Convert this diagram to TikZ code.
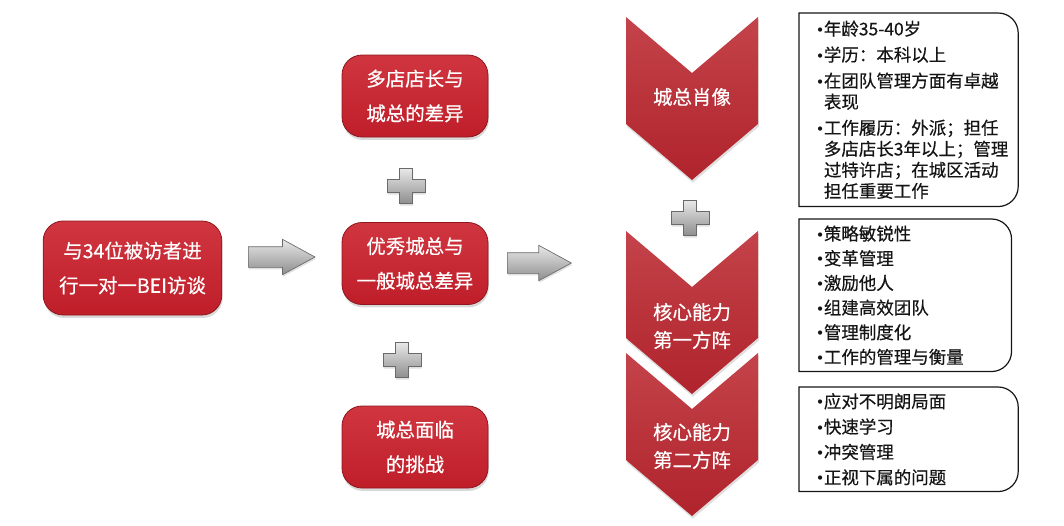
\documentclass[tikz,border=0pt]{standalone}
\usepackage{fontspec}
\setmainfont{Noto Sans CJK SC}[FakeBold=0.45]
\newfontfamily\symfont{DejaVu Sans}
\usetikzlibrary{arrows.meta,positioning,calc,shapes.arrows,shadows}
\definecolor{Brick}{HTML}{BF1E29}
\definecolor{BrickHi}{HTML}{D03640}
\definecolor{BrickDk}{HTML}{8E161E}
\definecolor{Wine}{HTML}{B0232C}
\definecolor{WineHi}{HTML}{C4434A}
\definecolor{Steel}{HTML}{8E8E8E}
\definecolor{SteelHi}{HTML}{E8E8E8}
\definecolor{SteelDk}{HTML}{6A6A6A}
\definecolor{Ink}{HTML}{151515}
\newcommand\bul{\makebox[6pt][l]{\symfont\fontsize{11}{11}\selectfont •}}
\newcommand\nob{\hspace*{6pt}}
\tikzset{
  redbox/.style={rounded corners=15pt,draw=BrickDk,line width=.6pt,top color=BrickHi,bottom color=Brick,text=white,align=center,inner sep=0pt,font=\fontsize{14.6}{26}\selectfont,drop shadow={opacity=.3,shadow xshift=.6pt,shadow yshift=-2.2pt}},
  chevfill/.style={top color=WineHi,bottom color=Wine,draw=none,drop shadow={opacity=.25,shadow xshift=.6pt,shadow yshift=-2pt}},
  chevtext/.style={text=white,align=center,inner sep=0pt,font=\fontsize{14.6}{21}\selectfont},
  blockarrow/.style={single arrow,draw=SteelDk,line width=.5pt,top color=SteelHi,bottom color=Steel,minimum height=50pt,minimum width=26pt,single arrow head extend=5.5pt,single arrow tip angle=57,inner xsep=0pt,inner ysep=7.5pt,anchor=tail,drop shadow={opacity=.25,shadow xshift=.5pt,shadow yshift=-1.5pt}},
  infobox/.style={align=left,inner xsep=12.5pt,inner ysep=0pt,text=Ink,font=\fontsize{13.1}{15.8}\selectfont},
  frame/.style={draw=Ink,line width=.9pt},
  addsign/.pic={
    \path[draw=SteelDk,line width=.5pt,top color=SteelHi,bottom color=Steel,drop shadow={opacity=.25,shadow xshift=.5pt,shadow yshift=-1.5pt}]
      (-6.5,-17.5) -- (6.5,-17.5) -- (6.5,-6.5) -- (19,-6.5) -- (19,6.5) -- (6.5,6.5) -- (6.5,17.5)
      -- (-6.5,17.5) -- (-6.5,6.5) -- (-19,6.5) -- (-19,-6.5) -- (-6.5,-6.5) -- cycle;
  }
}
\begin{document}
\begin{tikzpicture}[x=.75pt,y=-.75pt]
  \useasboundingbox (0,0) rectangle (1064,525);

  \node[redbox,minimum width=134pt,minimum height=70.5pt] (intv) at (132.5,268) {与34位被访者进\\行一对一BEI访谈};
  \node[redbox,minimum width=109.5pt,minimum height=61.5pt] (diffA) at (415,96) {多店店长与\\城总的差异};
  \node[redbox,minimum width=109.5pt,minimum height=61.5pt] (diffB) at (415,263.5) {优秀城总与\\一般城总差异};
  \node[redbox,minimum width=109.5pt,minimum height=61.5pt] (chal) at (415,447) {城总面临\\的挑战};

  \node[blockarrow] (arrA) at (248,257) {};
  \node[blockarrow,minimum height=48pt] (arrB) at (507,263) {};

  \pic (plA) at (406,186) {addsign};
  \pic (plB) at (402,360) {addsign};
  \pic (plC) at (690,218) {addsign};

  \foreach \yt in {17,231,353}
    \path[chevfill] (626,\yt) -- (692,\yt+56) -- (758,\yt) -- (758,\yt+107) -- (692,\yt+163) -- (626,\yt+107) -- cycle;
  \node[chevtext] (chA) at (692,97) {城总肖像};
  \node[chevtext] (chB) at (692,326) {核心能力\\第一方阵};
  \node[chevtext] (chC) at (692,446) {核心能力\\第二方阵};

  \node[infobox,text width=139pt,minimum height=144.75pt,anchor=north west] (pA) at (799,13)
    {\bul 年龄35-40岁\\[3.7pt]\bul 学历：本科以上\\[3.7pt]\bul 在团队管理方面有卓越\\\nob 表现\\[3.7pt]\bul 工作履历：外派；担任\\\nob 多店店长3年以上；管理\\\nob 过特许店；在城区活动\\\nob 担任重要工作};
  \node[infobox,text width=134pt,minimum height=114pt,anchor=north west] (pB) at (799,219)
    {\bul 策略敏锐性\\[2.7pt]\bul 变革管理\\[2.7pt]\bul 激励他人\\[2.7pt]\bul 组建高效团队\\[2.7pt]\bul 管理制度化\\[2.7pt]\bul 工作的管理与衡量};
  \node[infobox,text width=139pt,minimum height=78pt,anchor=north west] (pC) at (799,387)
    {\bul 应对不明朗局面\\[3.2pt]\bul 快速学习\\[3.2pt]\bul 冲突管理\\[3.2pt]\bul 正视下属的问题};

  \foreach \b in {pA,pB,pC}
    \draw[frame] (\b.north west) -- ($(\b.north east)+(-15pt,0)$) arc[start angle=90,end angle=0,radius=15pt]
      -- ($(\b.south east)+(0,15pt)$) arc[start angle=0,end angle=-90,radius=15pt] -- (\b.south west) -- cycle;
\end{tikzpicture}
\end{document}
